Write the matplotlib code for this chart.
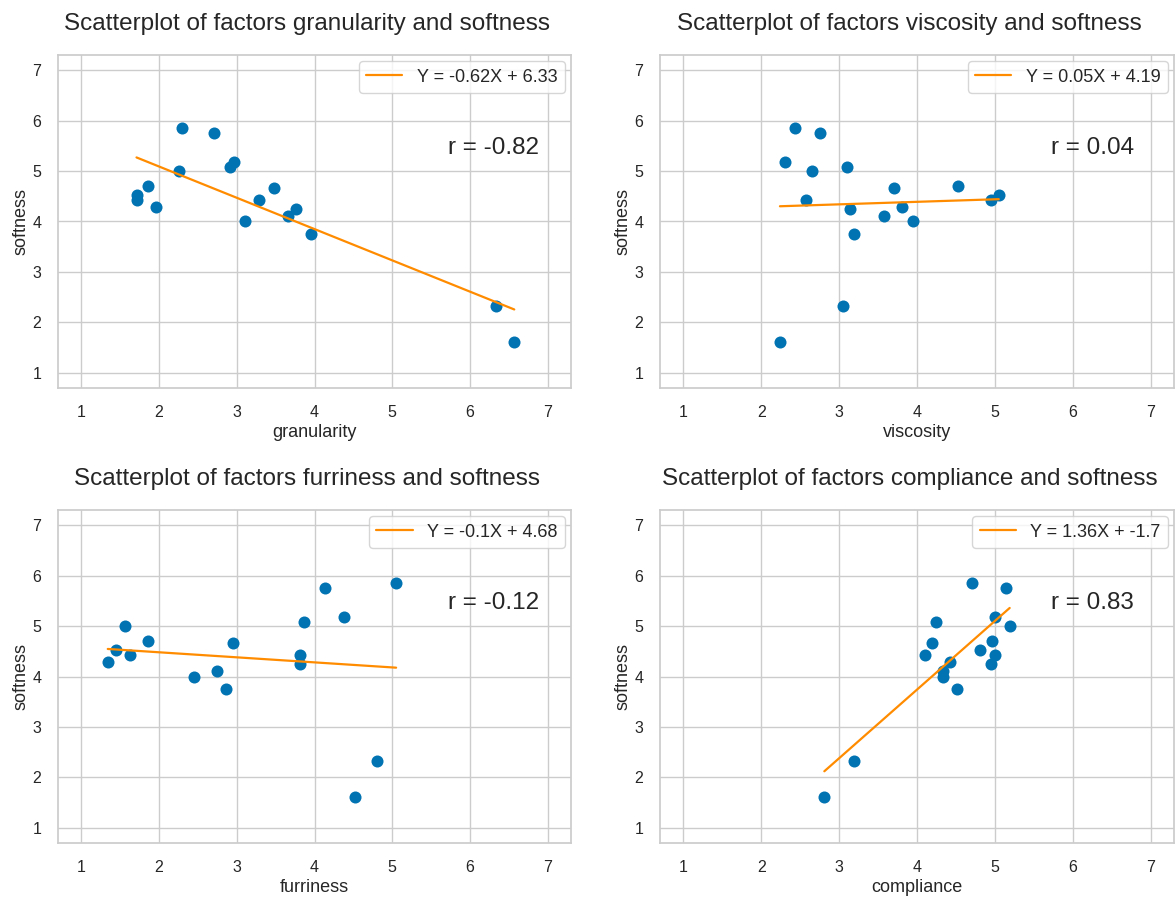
import numpy as np
import matplotlib
matplotlib.use("Agg")
import matplotlib.pyplot as plt
import seaborn as sns

# ---- data ----
softness = [1.62, 2.33, 3.76, 4.00, 4.10, 4.24, 4.29, 4.43, 4.43, 4.53, 4.67, 4.71, 5.00, 5.09, 5.18, 5.76, 5.85]
granularity = [6.57, 6.33, 3.95, 3.10, 3.66, 3.76, 1.96, 1.71, 3.29, 1.71, 3.48, 1.86, 2.26, 2.91, 2.96, 2.71, 2.29]
viscosity = [2.24, 3.05, 3.19, 3.95, 3.58, 3.14, 3.81, 2.57, 4.95, 5.05, 3.71, 4.53, 2.65, 3.10, 2.30, 2.76, 2.43]
furriness = [4.52, 4.81, 2.86, 2.45, 2.75, 3.81, 1.34, 1.62, 3.81, 1.45, 2.95, 1.86, 1.56, 3.86, 4.38, 4.14, 5.05]
compliance = [2.81, 3.19, 4.52, 4.33, 4.33, 4.95, 4.43, 4.10, 5.00, 4.81, 4.19, 4.96, 5.19, 4.24, 5.00, 5.14, 4.71]

factor_names = ["granularity", "viscosity", "furriness", "compliance"]
factor_values = [granularity, viscosity, furriness, compliance]
slopes = [-0.62, 0.05, -0.1, 1.36]
intercepts = [6.33, 4.19, 4.68, -1.7]
r_values = [-0.82, 0.04, -0.12, 0.83]
ticks = [1, 2, 3, 4, 5, 6, 7]

sns.set_theme(style="whitegrid")
plt.rcParams['font.family'] = ['Liberation Sans', 'DejaVu Sans']

W, H = 1175, 897
fig = plt.figure(figsize=(W / 100, H / 100), dpi=100)

rects = [
    (58, 55, 571, 388),
    (660, 55, 1174, 388),
    (58, 510, 571, 843),
    (660, 510, 1174, 843),
]

point_color = "#0173b2"
line_color = "#ff8c00"

for i, (name, xs) in enumerate(zip(factor_names, factor_values)):
    l, t, r, b = rects[i]
    ax = fig.add_axes([l / W, 1 - b / H, (r - l) / W, (b - t) / H])
    xs = np.array(xs)
    ys = np.array(softness)
    ax.scatter(xs, ys, s=75, color=point_color, zorder=3, linewidths=0)
    fx = np.array([xs.min(), xs.max()])
    fy = slopes[i] * fx + intercepts[i]
    ax.plot(fx, fy, color=line_color, lw=1.6,
            label=f"Y = {slopes[i]}X + {intercepts[i]}", zorder=4)
    ax.set_xlim(0.7, 7.3)
    ax.set_ylim(0.7, 7.3)
    ax.set_xticks(ticks)
    ax.set_yticks(ticks)
    ax.tick_params(labelsize=11.5, colors="#262626", pad=6)
    ax.set_xlabel(name, fontsize=13, labelpad=3)
    ax.set_ylabel("softness", fontsize=13, labelpad=2)
    ax.set_title(f"Scatterplot of factors {name} and softness", fontsize=17.5, pad=18, x=0.486)
    ax.text(5.72, 5.45, f"r = {r_values[i]}", fontsize=17.5, va="center", ha="left", color="#262626")
    ax.legend(loc="upper right", fontsize=13, borderaxespad=0.35)

fig.savefig("out.png", dpi=100)
